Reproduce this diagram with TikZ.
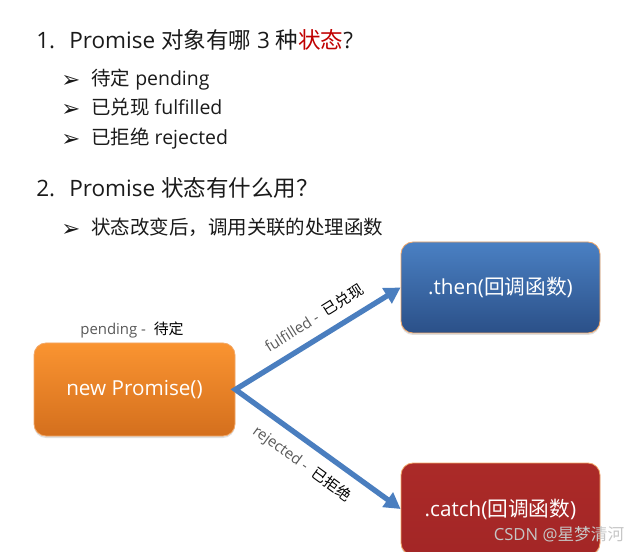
\documentclass[tikz,border=0pt]{standalone}
\usepackage{fontspec}
\setmainfont{Open Sans}
\newfontfamily\cjk{Noto Sans CJK SC}
\newfontfamily\arrfont{DejaVu Sans}
\usetikzlibrary{arrows.meta,shadows}
\definecolor{txt}{HTML}{1A1A1A}
\definecolor{redtxt}{HTML}{C00000}
\definecolor{lblgray}{HTML}{595959}
\definecolor{arrowblue}{HTML}{4A7EBF}
\definecolor{orTop}{HTML}{FA9431}
\definecolor{orBot}{HTML}{D46F1D}
\definecolor{blTop}{HTML}{4A80C3}
\definecolor{blBot}{HTML}{2B5088}
\definecolor{rdTop}{HTML}{AB2A28}
\definecolor{rdBot}{HTML}{A32626}
\definecolor{rim}{HTML}{F2A868}
\tikzset{
  title/.style={anchor=base west,inner sep=0pt,text=txt,font=\fontsize{16.9pt}{20pt}\selectfont},
  bul/.style={anchor=base west,inner sep=0pt,text=txt,font=\fontsize{14.6pt}{18pt}\selectfont},
  bulmark/.style={anchor=base west,inner sep=0pt,text=txt,font=\arrfont\fontsize{17pt}{18pt}\selectfont},
  box/.style={rounded corners=9pt,draw=rim,line width=0.6pt,text=white,
    font=\fontsize{15.5pt}{18pt}\selectfont,
    drop shadow={opacity=0.25,shadow xshift=0pt,shadow yshift=-1.5pt}},
  lbl/.style={inner sep=0pt,font=\fontsize{11.2pt}{13pt}\selectfont},
  flow/.style={draw=arrowblue,line width=4pt,line join=miter,
    {Triangle[length=12pt,width=13pt]}-{Triangle[length=12pt,width=13pt]}}
}
\begin{document}
\begin{tikzpicture}[x=0.75pt,y=-0.75pt]
\useasboundingbox (0,0) rectangle (643,552);
\clip (0,0) rectangle (643,552);
% headings
\node[title] (n1) at (36,49) {1.};
\node[title] (h1) at (69,49) {Promise {\cjk 对象有哪} 3 {\cjk 种}{\color{redtxt}\cjk 状态}?};
\node[bulmark] (m1) at (61,88) {➢};
\node[bul] (b1) at (91,86) {{\cjk 待定} pending};
\node[bulmark] (m2) at (61,117) {➢};
\node[bul] (b2) at (91,115) {{\cjk 已兑现} fulfilled};
\node[bulmark] (m3) at (61,147) {➢};
\node[bul] (b3) at (91,145) {{\cjk 已拒绝} rejected};
\node[title] (n2) at (36,197) {2.};
\node[title] (h2) at (69,197) {Promise {\cjk 状态有什么用？}};
\node[bulmark] (m4) at (61,237) {➢};
\node[bul] (b4) at (91,235) {{\cjk 状态改变后，调用关联的处理函数}};
% boxes
\node[box,top color=orTop,bottom color=orBot,minimum width=150.75pt,minimum height=69.75pt] (p) at (134.5,389.5) {new Promise()};
\node[box,top color=blTop,bottom color=blBot,minimum width=149.25pt,minimum height=68.25pt] (then) at (500.5,287.5) {.then({\cjk 回调函数})};
\node[box,top color=rdTop,bottom color=rdBot,minimum width=149.25pt,minimum height=69pt] (catch) at (500.5,509) {.catch({\cjk 回调函数})};
% arrows
\draw[flow] (then.west) -- (p.east) -- (catch.west);
% labels
\node[lbl,anchor=base] (lp) at (132,335) {\textcolor{lblgray}{pending -}\ \ {\cjk 待定}};
\node[lbl,rotate=32] (lf) at (314,318) {\textcolor{lblgray}{fulfilled -}\ \ {\cjk 已兑现}};
\node[lbl,rotate=-36] (lr) at (302,464) {\textcolor{lblgray}{rejected -}\ \ {\cjk 已拒绝}};
% watermark
\node[inner sep=0pt,text=gray!45,font=\fontsize{12.5pt}{14pt}\selectfont] (wm) at (559,534) {CSDN @{\cjk 星梦清河}};
\end{tikzpicture}
\end{document}
